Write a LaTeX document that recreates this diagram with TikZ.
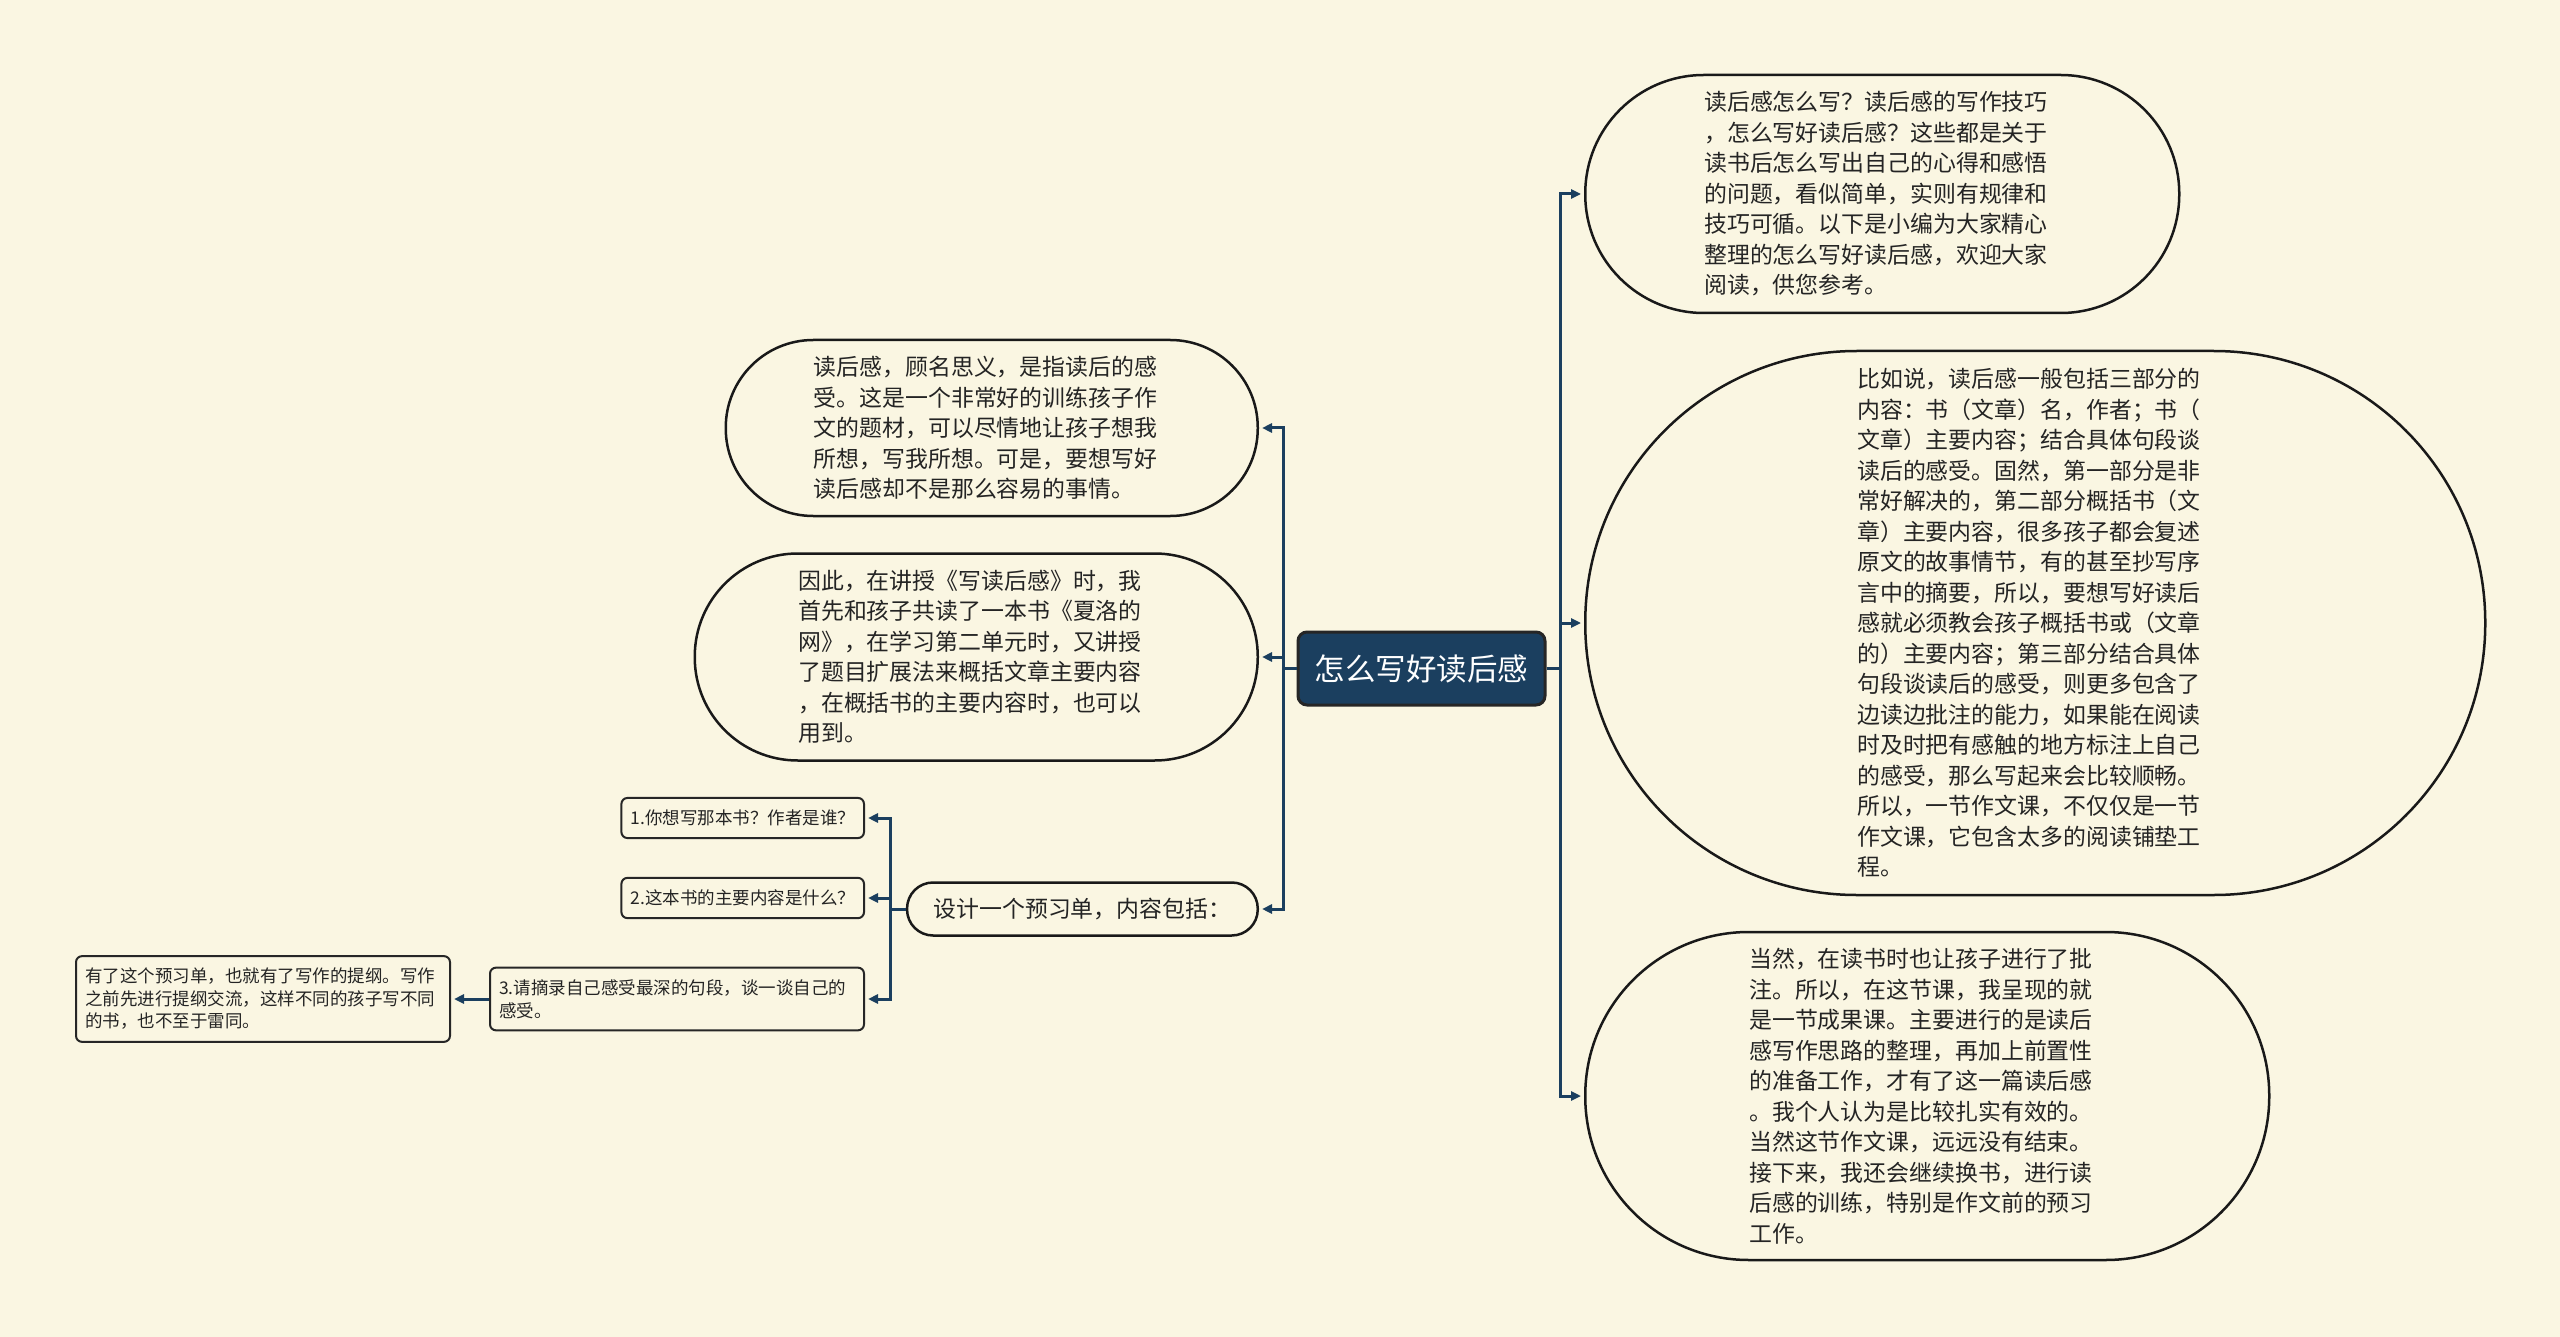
\documentclass[tikz,border=0pt]{standalone}
\usepackage{fontspec}
\newfontfamily\cjk{Noto Sans CJK SC}
\usetikzlibrary{arrows.meta}
\definecolor{paper}{RGB}{250,246,226}
\definecolor{navy}{RGB}{27,63,95}
\definecolor{ink}{RGB}{36,36,36}

\begin{document}
\begin{tikzpicture}[x=1pt,y=-1pt,
    bubble/.style={rectangle, rounded corners=#1-0.5pt, inner xsep=#1, inner ysep=0pt, minimum height=2*#1,
      draw=black!90, line width=2.5pt, fill=paper, text=ink,
      font=\cjk\fontsize{22.9}{30.5}\selectfont, align=left},
    card/.style={rectangle, rounded corners=6pt, draw=black!85, line width=2pt, fill=paper, text=ink,
      font=\cjk\fontsize{17.5}{22.5}\selectfont, inner xsep=9pt, inner ysep=12pt, align=left},
    topic/.style={rectangle, rounded corners=9pt, draw=black!85, line width=3pt, fill=navy, text=white,
      font=\cjk\fontsize{30.5}{36}\selectfont, minimum width=247pt, minimum height=73pt},
    link/.style={draw=navy, line width=3pt, -{Triangle[length=10pt,width=9pt]}, shorten >=3pt}]
		\useasboundingbox (0,0) rectangle (2560,1337);
		\fill[paper] (0,0) rectangle (2560,1337);
		% centre
		\node[topic] (topic) at (1421.5,668.5){怎么写好读后感};
		% right side
		\node[bubble=119, text width=356pt, anchor=west] (intro) at (1584,194){读后感怎么写？读后感的写作技巧\\，怎么写好读后感？这些都是关于\\读书后怎么写出自己的心得和感悟\\的问题，看似简单，实则有规律和\\技巧可循。以下是小编为大家精心\\整理的怎么写好读后感，欢迎大家\\阅读，供您参考。};
		\node[bubble=272, text width=356pt, anchor=west] (parts) at (1584,623){比如说，读后感一般包括三部分的\\内容：书（文章）名，作者；书（\\文章）主要内容；结合具体句段谈\\读后的感受。固然，第一部分是非\\常好解决的，第二部分概括书（文\\章）主要内容，很多孩子都会复述\\原文的故事情节，有的甚至抄写序\\言中的摘要，所以，要想写好读后\\感就必须教会孩子概括书或（文章\\的）主要内容；第三部分结合具体\\句段谈读后的感受，则更多包含了\\边读边批注的能力，如果能在阅读\\时及时把有感触的地方标注上自己\\的感受，那么写起来会比较顺畅。\\所以，一节作文课，不仅仅是一节\\作文课，它包含太多的阅读铺垫工\\程。};
		\node[bubble=164, text width=356pt, anchor=west] (lesson) at (1584,1096){当然，在读书时也让孩子进行了批\\注。所以，在这节课，我呈现的就\\是一节成果课。主要进行的是读后\\感写作思路的整理，再加上前置性\\的准备工作，才有了这一篇读后感\\。我个人认为是比较扎实有效的。\\当然这节作文课，远远没有结束。\\接下来，我还会继续换书，进行读\\后感的训练，特别是作文前的预习\\工作。};
		% left side
		\node[bubble=88, text width=356pt, anchor=east] (meaning) at (1259,428){读后感，顾名思义，是指读后的感\\受。这是一个非常好的训练孩子作\\文的题材，可以尽情地让孩子想我\\所想，写我所想。可是，要想写好\\读后感却不是那么容易的事情。};
		\node[bubble=103.5, text width=356pt, anchor=east] (teach) at (1259,657){因此，在讲授《写读后感》时，我\\首先和孩子共读了一本书《夏洛的\\网》，在学习第二单元时，又讲授\\了题目扩展法来概括文章主要内容\\，在概括书的主要内容时，也可以\\用到。};
		\node[bubble=26.5, anchor=east] (sheet) at (1259,909){设计一个预习单，内容包括：};
		\node[card, anchor=east] (q1) at (865,818){1.你想写那本书？作者是谁？};
		\node[card, anchor=east] (q2) at (865,898){2.这本书的主要内容是什么？};
		\node[card, text width=356pt, anchor=east] (q3) at (865,999){3.请摘录自己感受最深的句段，谈一谈自己的\\感受。};
		\node[card, text width=356pt, anchor=east] (outline) at (451,999){有了这个预习单，也就有了写作的提纲。写作\\之前先进行提纲交流，这样不同的孩子写不同\\的书，也不至于雷同。};
		% connectors
		\draw[link] (topic.east) -- ++(14,0) |- (intro.west);
		\draw[link] (topic.east) -- ++(14,0) |- (parts.west);
		\draw[link] (topic.east) -- ++(14,0) |- (lesson.west);
		\draw[link] (topic.west) -- ++(-13,0) |- (meaning.east);
		\draw[link] (topic.west) -- ++(-13,0) |- (teach.east);
		\draw[link] (topic.west) -- ++(-13,0) |- (sheet.east);
		\draw[link] (sheet.west) -- ++(-15,0) |- (q1.east);
		\draw[link] (sheet.west) -- ++(-15,0) |- (q2.east);
		\draw[link] (sheet.west) -- ++(-15,0) |- (q3.east);
		\draw[link] (q3.west) -- (outline.east);
\end{tikzpicture}
\end{document}
